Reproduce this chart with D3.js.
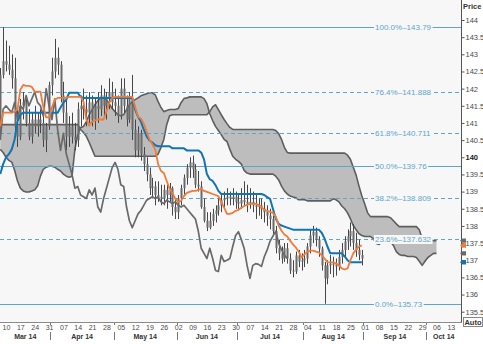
<!DOCTYPE html>
<html>
<head>
<meta charset="utf-8">
<script src="https://cdn.jsdelivr.net/npm/d3@7"></script>
<style>
  html, body { margin: 0; padding: 0; background: #ffffff; }
  svg { display: block; font-family: "Liberation Sans", Arial, sans-serif; }
</style>
</head>
<body>
<svg id="chart" width="483" height="344"></svg>
<script>
// EUR/JPY daily, Ichimoku cloud with Fibonacci retracement of the Mar–Aug swing
const firstSession = "2014-03-06";
const lastSession = "2014-10-17";
const lagShift = 26;

const open = [
  140.70,142.40,142.80,142.70,142.55,142.30,140.90,140.60,141.50,141.60,
  141.00,140.60,141.10,140.90,141.10,141.00,140.50,140.90,142.10,142.50,
  142.90,142.70,141.80,141.30,140.60,140.90,140.60,140.50,141.40,141.50,
  141.40,141.30,141.60,141.10,141.50,141.40,141.80,141.50,141.70,141.90,
  141.60,141.50,141.20,142.00,141.50,141.10,141.70,140.80,140.20,140.70,
  140.10,139.80,139.50,139.10,139.15,138.90,138.85,138.80,139.05,138.90,
  139.10,138.55,138.40,138.80,139.10,139.40,139.70,139.85,139.65,139.20,
  139.15,138.55,138.15,137.95,138.15,138.35,138.45,138.60,138.75,138.80,
  138.85,138.80,138.85,138.70,138.65,138.75,138.70,138.65,138.70,138.60,
  138.55,138.60,138.50,138.40,138.30,138.20,137.85,137.35,137.20,137.05,
  137.35,137.05,136.70,136.67,137.14,136.96,137.00,137.05,137.40,137.72,
  137.83,137.60,137.34,136.85,136.47,136.85,136.90,136.88,136.82,137.10,
  137.30,137.55,137.70,137.85,137.50,137.30,137.15
];
const high = [
  142.60,143.79,143.40,143.25,143.00,142.90,141.45,141.70,141.90,141.80,
  141.40,141.30,141.50,141.30,141.40,141.30,141.00,142.20,142.90,143.45,
  143.20,142.80,142.20,141.70,141.20,141.30,141.00,141.60,141.80,142.00,
  141.80,141.90,141.80,141.70,141.90,142.10,142.00,141.90,142.30,142.20,
  142.00,141.80,142.30,142.30,141.80,141.90,142.40,141.10,140.90,140.80,
  140.30,140.00,139.70,139.40,139.30,139.30,139.20,139.20,139.20,139.25,
  139.15,138.80,138.90,139.20,139.50,139.80,140.00,140.05,139.80,139.60,
  139.30,138.80,138.40,138.40,138.50,138.60,138.80,138.95,139.00,139.10,
  139.00,139.10,139.00,138.95,139.10,139.30,139.20,139.10,139.00,138.90,
  138.80,138.80,138.70,138.60,138.50,138.30,138.00,137.60,137.40,137.50,
  137.50,137.20,137.00,137.25,137.30,137.20,137.30,137.50,137.90,138.00,
  137.95,137.70,137.40,136.95,137.00,137.15,137.10,137.05,137.30,137.50,
  137.70,137.90,138.10,138.05,137.80,137.60,137.30
];
const low = [
  140.55,142.30,142.50,142.40,142.00,140.60,140.30,140.50,141.10,140.90,
  140.50,140.40,140.70,140.60,140.70,140.30,140.15,140.80,141.80,142.30,
  142.40,141.60,141.00,140.20,140.30,140.40,140.20,140.30,140.90,141.10,
  140.90,141.00,140.90,140.80,141.00,141.20,141.20,141.10,141.40,141.40,
  141.20,141.00,141.10,141.30,140.90,141.00,140.50,140.00,140.00,139.90,
  139.60,139.30,138.90,138.80,138.60,138.70,138.60,138.60,138.50,138.70,
  138.30,138.20,138.20,138.60,138.90,139.20,139.40,139.40,139.10,139.00,
  138.50,138.10,137.85,137.90,138.00,138.10,138.30,138.40,138.50,138.60,
  138.60,138.60,138.50,138.45,138.50,138.60,138.40,138.50,138.40,138.20,
  138.30,138.20,138.10,138.00,137.90,137.70,137.20,137.00,136.90,136.95,
  136.90,136.60,136.50,136.60,136.80,136.70,136.80,136.90,137.20,137.50,
  137.40,137.10,136.70,135.73,136.30,136.60,136.50,136.55,136.70,136.90,
  137.10,137.30,137.40,137.30,137.10,137.00,136.85
];
const close = [
  142.40,142.80,142.70,142.55,142.30,140.90,140.60,141.50,141.60,141.00,
  140.60,141.10,140.90,141.10,141.00,140.50,140.90,142.10,142.50,142.90,
  142.70,141.80,141.30,140.60,140.90,140.60,140.50,141.40,141.50,141.40,
  141.30,141.60,141.10,141.50,141.40,141.80,141.50,141.70,141.90,141.60,
  141.50,141.20,142.00,141.50,141.10,141.70,140.80,140.20,140.70,140.10,
  139.80,139.50,139.10,139.15,138.90,138.85,138.80,139.05,138.90,139.10,
  138.55,138.40,138.80,139.10,139.40,139.70,139.85,139.65,139.20,139.15,
  138.55,138.15,137.95,138.15,138.35,138.45,138.60,138.75,138.80,138.85,
  138.80,138.85,138.70,138.65,138.75,138.70,138.65,138.70,138.60,138.55,
  138.60,138.50,138.40,138.30,138.20,137.85,137.35,137.20,137.05,137.35,
  137.05,136.70,136.67,137.14,136.96,137.00,137.05,137.40,137.72,137.83,
  137.60,137.34,136.85,136.47,136.85,136.90,136.88,136.82,137.10,137.30,
  137.55,137.70,137.85,137.50,137.30,137.15,137.05
];

// Conversion line (9) and base line (26)
const tenkan = [
  140.90,141.30,141.30,141.30,141.30,141.33,141.39,141.97,142.11,142.08,
  142.08,142.05,141.91,141.91,141.91,141.47,141.16,141.16,141.45,141.68,
  141.73,141.73,141.73,141.73,141.76,141.76,141.76,141.76,141.76,141.62,
  141.10,140.92,141.04,141.07,141.10,141.10,141.10,141.33,141.59,141.73,
  141.76,141.76,141.76,141.76,141.76,141.76,141.76,141.47,141.18,141.13,
  140.98,140.75,140.52,140.38,140.23,139.80,139.60,139.54,139.31,139.08,
  138.96,138.79,138.70,138.73,138.87,138.96,138.99,139.02,139.02,139.05,
  139.08,139.02,138.99,138.96,138.93,138.90,138.87,138.70,138.53,138.35,
  138.35,138.38,138.44,138.47,138.53,138.58,138.61,138.64,138.64,138.64,
  138.61,138.55,138.47,138.44,138.41,138.38,138.27,138.01,137.86,137.75,
  137.69,137.57,137.46,137.37,137.25,137.08,137.17,137.25,137.28,137.28,
  137.25,137.23,137.14,137.05,136.94,136.94,136.94,136.91,136.85,136.76,
  136.73,136.76,137.00,137.20,137.31,137.40,137.43
];
const kijun = [
  139.51,139.80,140.00,140.09,140.23,140.52,141.04,141.24,141.30,141.30,
  141.30,141.30,141.30,141.30,141.30,141.30,141.30,141.30,141.30,141.30,
  141.30,141.45,141.59,141.68,141.88,141.88,141.88,141.88,141.76,141.73,
  141.73,141.73,141.73,141.73,141.73,141.73,141.73,141.73,141.73,141.73,
  141.73,141.73,141.73,141.73,141.73,141.73,141.73,141.39,141.18,141.04,
  140.81,140.61,140.49,140.43,140.35,140.32,140.32,140.32,140.32,140.32,
  140.26,140.26,140.26,140.26,140.26,140.20,140.20,140.20,140.20,140.20,
  140.14,139.94,139.51,139.36,139.31,139.19,139.02,138.93,138.93,138.93,
  138.93,138.93,138.93,138.93,138.93,138.93,138.93,138.93,138.93,138.93,
  138.93,138.93,138.90,138.84,138.79,138.50,138.21,138.06,138.01,137.98,
  137.95,137.92,137.89,137.89,137.89,137.89,137.89,137.89,137.89,137.89,
  137.89,137.89,137.80,137.63,137.40,137.20,137.20,137.20,137.20,137.20,
  137.11,137.00,136.94,136.94,136.94,136.94,136.94
];

// Leading spans, listed at the sessions where they are plotted (26 ahead)
const spanA = [
  140.23,140.14,140.00,139.91,139.86,139.62,139.31,139.10,139.02,138.99,
  138.99,139.02,139.05,139.16,139.45,139.65,139.71,139.74,139.74,139.71,
  139.65,139.60,139.51,139.45,139.42,139.45,140.23,140.66,140.87,140.90,
  141.04,141.24,141.39,141.53,141.65,141.73,141.73,141.68,141.56,141.42,
  141.33,141.24,141.21,141.24,141.39,141.53,141.62,141.68,141.73,141.79,
  141.82,141.85,141.88,141.88,141.82,141.62,141.45,141.33,141.36,141.39,
  141.39,141.39,141.42,141.59,141.71,141.73,141.76,141.76,141.76,141.76,
  141.76,141.71,141.56,141.27,141.07,140.90,140.78,140.66,140.52,140.46,
  140.23,140.03,139.94,139.88,139.80,139.62,139.54,139.51,139.51,139.51,
  139.51,139.51,139.51,139.51,139.51,139.51,139.45,139.34,139.16,139.02,
  138.93,138.87,138.84,138.82,138.76,138.76,138.76,138.73,138.73,138.73,
  138.73,138.73,138.73,138.73,138.73,138.73,138.79,138.76,138.70,138.58,
  138.50,138.38,138.21,138.01,137.89,137.77,137.72,137.69,137.69,137.69,
  137.63,137.49,137.46,137.54,137.63,137.60,137.54,137.43,137.25,137.17,
  137.14,137.14,137.11,137.11,137.11,137.08,136.97,136.85,136.97,137.08,
  137.14,137.20,137.20
];
const spanB = [
  140.95,140.95,140.95,140.95,140.95,140.95,140.95,140.95,140.95,140.95,
  140.95,140.95,140.95,140.95,140.95,140.95,140.95,140.95,140.95,140.95,
  140.95,140.95,140.95,140.95,140.95,140.95,140.95,140.95,140.81,140.72,
  140.61,140.43,140.23,140.03,140.03,140.03,140.03,140.03,140.03,140.03,
  140.03,140.03,140.03,140.03,140.03,140.03,140.03,140.03,140.03,140.03,
  140.03,140.03,140.03,140.03,140.03,140.09,140.29,140.52,140.95,141.21,
  141.24,141.24,141.24,141.24,141.24,141.24,141.24,141.24,141.24,141.24,
  141.24,141.24,141.24,141.33,141.47,141.53,141.39,141.24,141.10,140.98,
  140.87,140.81,140.81,140.81,140.81,140.81,140.81,140.81,140.81,140.81,
  140.81,140.81,140.81,140.81,140.81,140.81,140.78,140.69,140.52,140.29,
  140.14,140.12,140.12,140.12,140.12,140.12,140.12,140.12,140.12,140.12,
  140.12,140.12,140.12,140.12,140.12,140.12,140.12,140.12,140.12,140.12,
  140.12,140.06,139.94,139.71,139.48,139.16,138.87,138.64,138.38,138.27,
  138.27,138.27,138.27,138.27,138.27,138.27,138.24,138.15,138.06,137.98,
  137.98,137.98,137.98,137.98,137.98,137.98,137.89,137.63,137.57,137.57,
  137.57,137.57,137.57
];

const fibPct = ["100.0%", "76.4%", "61.8%", "50.0%", "38.2%", "23.6%", "0.0%"];
const fibPrice = [143.79, 141.888, 140.711, 139.76, 138.809, 137.632, 135.73];
const fibSolid = ["100.0%", "50.0%", "0.0%"];

const priceTicks = [135.5, 136, 136.5, 137, 137.5, 138, 138.5, 139, 139.5,
                    140, 140.5, 141, 141.5, 142, 142.5, 143, 143.5, 144];

// ---------------------------------------------------------------------------
const svg = d3.select("#chart");
const plotRight = 461, plotBottom = 322;

const COL = {
  bg: "#f7f7f7", fib: "#5ea5cb", cloud: "#bdbdbd", cloudEdge: "#5e5e5e",
  lag: "#6a6a6a", bar: "#474747", body: "#6a6a6a",
  tenkan: "#f27b3a", kijun: "#1174b3", axis: "#555555", text: "#4a4a4a"
};

const isWeekday = d => d.getUTCDay() !== 0 && d.getUTCDay() !== 6;
const sessions = d3.utcDay
  .range(new Date(firstSession), d3.utcDay.offset(new Date(lastSession), 1))
  .filter(isWeekday);

const x = d3.scaleLinear().domain([0, 157]).range([0.26, 450.85]);
const y = d3.scaleLinear().domain([135.5, 144]).range([311.7, 20]);

svg.append("rect").attr("x", 0).attr("y", 0).attr("width", plotRight).attr("height", plotBottom)
  .attr("fill", COL.bg);

svg.append("defs").append("clipPath").attr("id", "plotClip")
  .append("rect").attr("x", 0).attr("y", 0).attr("width", plotRight).attr("height", plotBottom);

const plot = svg.append("g").attr("clip-path", "url(#plotClip)");

// cloud
const cloud = spanA.map((a, i) => ({ i, a, b: spanB[i] }));
plot.append("path").datum(cloud)
  .attr("d", d3.area().x(d => x(d.i)).y0(d => y(d.a)).y1(d => y(d.b)))
  .attr("fill", COL.cloud);
["a", "b"].forEach(k => {
  plot.append("path").datum(cloud)
    .attr("d", d3.line().x(d => x(d.i)).y(d => y(d[k])))
    .attr("fill", "none").attr("stroke", COL.cloudEdge).attr("stroke-width", 1.6)
    .attr("stroke-linejoin", "round");
});

// fibonacci levels
const fib = fibPct.map((p, i) => ({ p, v: fibPrice[i] }));
plot.selectAll("line.fib").data(fib).join("line")
  .attr("class", "fib")
  .attr("x1", 0).attr("x2", plotRight)
  .attr("y1", d => Math.round(y(d.v)) + 0.5).attr("y2", d => Math.round(y(d.v)) + 0.5)
  .attr("stroke", COL.fib).attr("stroke-width", 1)
  .attr("stroke-dasharray", d => fibSolid.includes(d.p) ? null : "4,3");

// candles
const bars = close.map((c, i) => ({ i, o: open[i], h: high[i], l: low[i], c }));
const cg = plot.append("g");
cg.selectAll("line").data(bars).join("line")
  .attr("x1", d => Math.round(x(d.i)) + 0.5).attr("x2", d => Math.round(x(d.i)) + 0.5)
  .attr("y1", d => y(d.h)).attr("y2", d => y(d.l))
  .attr("stroke", COL.bar).attr("stroke-width", 1);
cg.selectAll("rect").data(bars).join("rect")
  .attr("x", d => Math.round(x(d.i)) - 0.5).attr("width", 2)
  .attr("y", d => y(Math.max(d.o, d.c)))
  .attr("height", d => Math.max(1, Math.abs(y(d.o) - y(d.c))))
  .attr("fill", COL.body);

// lagging span: closes drawn 26 sessions back
const lag = close.map((c, i) => ({ i: i - lagShift, c })).filter(d => d.i >= 0);
plot.append("path").datum(lag)
  .attr("d", d3.line().x(d => x(d.i)).y(d => y(d.c)))
  .attr("fill", "none").attr("stroke", COL.lag).attr("stroke-width", 1.7)
  .attr("stroke-linejoin", "round");

plot.append("path").datum(kijun)
  .attr("d", d3.line().x((d, i) => x(i)).y(d => y(d)))
  .attr("fill", "none").attr("stroke", COL.kijun).attr("stroke-width", 2)
  .attr("stroke-linejoin", "round");
plot.append("path").datum(tenkan)
  .attr("d", d3.line().x((d, i) => x(i)).y(d => y(d)))
  .attr("fill", "none").attr("stroke", COL.tenkan).attr("stroke-width", 1.8)
  .attr("stroke-linejoin", "round");

// fibonacci labels
fib.forEach(d => {
  const g = plot.append("g");
  const t = g.append("text").attr("x", 375).attr("y", Math.round(y(d.v)) + 3)
    .attr("font-size", 8).attr("fill", COL.fib)
    .text(d.p + "\u2013" + d.v);
  const bb = t.node().getBBox();
  g.insert("rect", "text").attr("x", bb.x - 1).attr("y", bb.y).attr("width", bb.width + 2)
    .attr("height", bb.height).attr("fill", COL.bg);
});

// price axis
svg.append("line").attr("x1", plotRight + 0.5).attr("x2", plotRight + 0.5)
  .attr("y1", 0).attr("y2", plotBottom + 1).attr("stroke", COL.axis);
const yAxis = svg.append("g").attr("transform", `translate(${plotRight + 0.5},0)`)
  .call(d3.axisRight(y).tickValues(priceTicks).tickSize(3).tickPadding(1).tickFormat(d3.format("")));
yAxis.select(".domain").remove();
yAxis.selectAll("line").attr("stroke", COL.axis);
yAxis.selectAll("text").attr("font-size", 7.5)
  .attr("font-family", "'Liberation Sans', Arial, sans-serif")
  .attr("font-weight", d => d === 140 ? "bold" : null)
  .attr("fill", d => d === 140 ? "#222" : COL.text);

svg.append("text").attr("x", 463).attr("y", 9).attr("font-size", 7.5)
  .attr("font-weight", "bold").attr("fill", "#333").text("Price");

// last-value markers on the price axis
const last = [
  { v: spanB[spanB.length - 1], c: COL.lag },
  { v: tenkan[tenkan.length - 1], c: COL.tenkan },
  { v: spanA[spanA.length - 1], c: COL.lag },
  { v: kijun[kijun.length - 1], c: COL.kijun }
];
svg.selectAll("path.mk").data(last).join("path").attr("class", "mk")
  .attr("d", d => { const yy = y(d.v); return `M460,${yy} L462.5,${yy - 2.2} L466,${yy - 2.2} L466,${yy + 2.2} L462.5,${yy + 2.2} Z`; })
  .attr("fill", d => d.c);

// time axis
svg.append("line").attr("x1", 0).attr("x2", plotRight + 1)
  .attr("y1", plotBottom + 0.5).attr("y2", plotBottom + 0.5).attr("stroke", "#8a8a8a");

const mondays = sessions.map((d, i) => ({ d, i }))
  .filter(o => o.d.getUTCDay() === 1 && x(o.i) < plotRight - 3).map(o => o.i);
const xAxis = svg.append("g").attr("transform", `translate(0,${plotBottom})`)
  .call(d3.axisBottom(x).tickValues(mondays).tickSize(0).tickPadding(3)
    .tickFormat(i => d3.utcFormat("%d")(sessions[i])));
xAxis.select(".domain").remove();
xAxis.selectAll("text").attr("font-size", 7).attr("fill", COL.text)
  .attr("font-family", "'Liberation Sans', Arial, sans-serif");

// month boundaries and labels
const months = d3.groups(sessions.map((d, i) => ({ d, i })), o => d3.utcFormat("%Y-%m")(o.d))
  .map(([, arr]) => ({ d: arr[0].d, first: arr[0].i, last: arr[arr.length - 1].i }));
const step = x(1) - x(0);
months.forEach((m, k) => {
  const left = x(m.first) - step / 2;
  const right = x(m.last) + step / 2;
  if (k > 0 && left < plotRight) {
    svg.append("line").attr("x1", Math.round(left) + 0.5).attr("x2", Math.round(left) + 0.5)
      .attr("y1", plotBottom + 1).attr("y2", plotBottom + 3).attr("stroke", "#777");
    svg.append("line").attr("x1", Math.round(left) + 0.5).attr("x2", Math.round(left) + 0.5)
      .attr("y1", 332).attr("y2", 340).attr("stroke", "#777");
  }
  const a = Math.max(left, 0), b = Math.min(right, plotRight);
  if (b - a > 10) {
    svg.append("text").attr("x", (a + b) / 2).attr("y", 339).attr("text-anchor", "middle")
      .attr("font-size", 7).attr("font-weight", "bold").attr("fill", "#333")
      .text(d3.utcFormat("%b %y")(m.d));
  }
});

// scale mode button
svg.append("rect").attr("x", 463.5).attr("y", 317.5).attr("width", 19).attr("height", 9)
  .attr("fill", "#ffffff").attr("stroke", "#888");
svg.append("text").attr("x", 473).attr("y", 325).attr("text-anchor", "middle")
  .attr("font-size", 7.5).attr("font-weight", "bold").attr("fill", "#333").text("Auto");
</script>
</body>
</html>
